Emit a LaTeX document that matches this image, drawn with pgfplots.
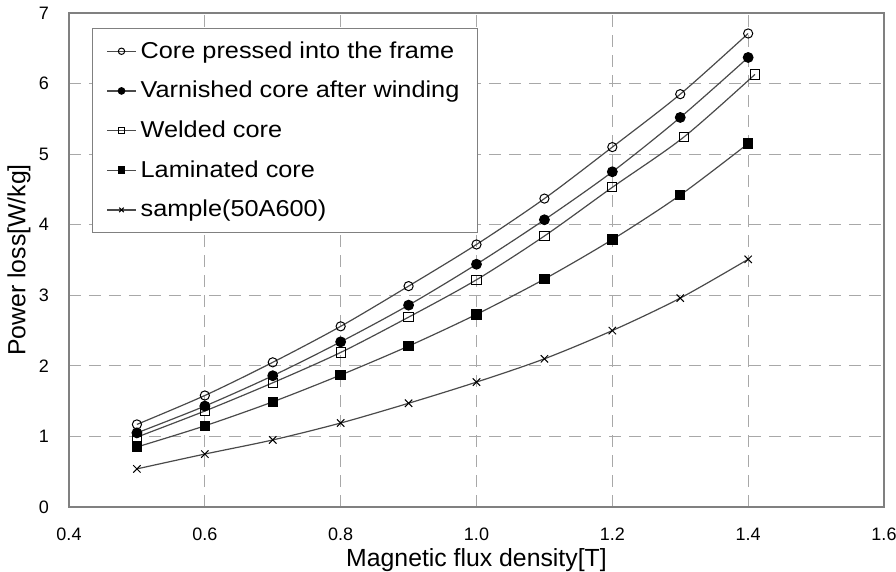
\documentclass[border=0pt]{standalone}
\usepackage{fontspec}
\setmainfont{Liberation Sans}
\newfontfamily\legendfont[FakeStretch=1.1]{Liberation Sans}
\usepackage{pgfplots}
\pgfplotsset{compat=1.18}
\definecolor{linegray}{HTML}{4A4A4A}
\definecolor{gridgray}{HTML}{A8A8A8}
\definecolor{framegray}{HTML}{808080}
\begin{document}
\begin{tikzpicture}[x=1pt,y=1pt]
\useasboundingbox (-34.5,-32.5) rectangle (413.5,253.5);
\begin{axis}[
  at={(0,0)}, anchor=south west, scale only axis,
  width=407.5pt, height=247pt,
  xmin=0.4, xmax=1.6, ymin=0, ymax=7,
  xtick={0.4,0.6,0.8,1.0,1.2,1.4,1.6},
  ytick={0,1,2,3,4,5,6,7},
  /pgf/number format/assume math mode=true,
  xticklabel style={/pgf/number format/fixed, /pgf/number format/fixed zerofill, /pgf/number format/precision=1, yshift=-7pt},
  yticklabel style={xshift=-6.5pt},
  tick label style={font=\fontsize{9}{10}\selectfont},
  major tick length=0pt,
  grid=major,
  grid style={gridgray, line width=0.5pt, dash pattern=on 6pt off 4pt},
  axis line style={framegray, line width=0.6pt},
  xlabel={Magnetic flux density[T]},
  ylabel={Power loss[W/kg]},
  label style={font=\fontsize{12.4}{14}\selectfont},
  xlabel style={at={(axis description cs:0.5,-0.108)}, anchor=center},
  ylabel style={at={(axis description cs:-0.0615,0.5)}, anchor=center},
  legend style={at={(axis description cs:0.028,0.97)}, anchor=north west,
    draw=framegray, line width=0.6pt, fill=white,
    font=\legendfont\fontsize{11.5}{13}\selectfont, row sep=6pt,
    inner xsep=7pt, inner ysep=4.5pt},
  legend cell align=left,
  legend image code/.code={\draw[mark repeat=2,mark phase=2,#1,mark size=1.6pt] plot coordinates {(0pt,0pt)(7.25pt,0pt)(14.5pt,0pt)};},
  every axis plot/.append style={linegray, line width=0.6pt, smooth, tension=0.5},
]
\addplot[linegray, mark=o, mark size=2.3pt, mark options={black, solid, fill=white, line width=0.5pt}] coordinates {
(0.5,1.17)(0.6,1.58)(0.7,2.05)(0.8,2.56)(0.9,3.13)(1.0,3.72)(1.1,4.37)(1.2,5.10)(1.3,5.85)(1.4,6.71)};
\addlegendentry{Core pressed into the frame}
\addplot[linegray, mark=*, mark size=2.4pt, mark options={black, solid, fill=black}] coordinates {
(0.5,1.05)(0.6,1.43)(0.7,1.86)(0.8,2.34)(0.9,2.86)(1.0,3.44)(1.1,4.07)(1.2,4.75)(1.3,5.52)(1.4,6.37)};
\addlegendentry{Varnished core after winding}
\addplot[linegray, mark=square, mark size=2.3pt, mark options={black, solid, fill=white, line width=0.5pt}] coordinates {
(0.5,0.99)(0.6,1.36)(0.7,1.76)(0.8,2.19)(0.9,2.69)(1.0,3.22)(1.1,3.84)(1.2,4.53)(1.305,5.24)(1.41,6.13)};
\addlegendentry{Welded core}
\addplot[linegray, mark=square*, mark size=2.3pt, mark options={black, solid, fill=black}] coordinates {
(0.5,0.85)(0.6,1.15)(0.7,1.49)(0.8,1.87)(0.9,2.28)(1.0,2.73)(1.1,3.23)(1.2,3.79)(1.3,4.42)(1.4,5.15)};
\addlegendentry{Laminated core}
\addplot[linegray, mark=x, mark size=2.6pt, mark options={black, solid, line width=0.5pt}] coordinates {
(0.5,0.54)(0.6,0.75)(0.7,0.95)(0.8,1.19)(0.9,1.47)(1.0,1.77)(1.1,2.10)(1.2,2.50)(1.3,2.96)(1.4,3.51)};
\addlegendentry{sample(50A600)}
\end{axis}
\end{tikzpicture}
\end{document}
